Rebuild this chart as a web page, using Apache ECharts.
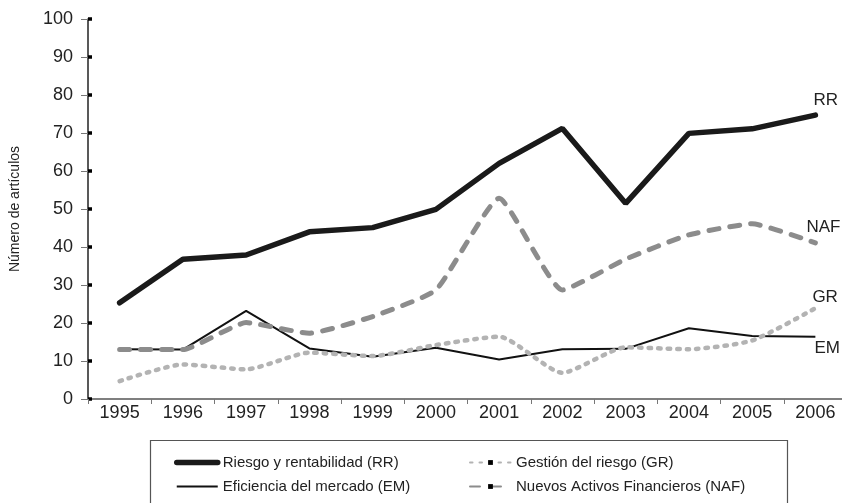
<!DOCTYPE html>
<html>
<head>
<meta charset="utf-8">
<title>Número de artículos</title>
<script src="https://cdn.jsdelivr.net/npm/echarts@6/dist/echarts.min.js"></script>
<style>
	* { margin: 0; padding: 0; }
	#main { width: 842px; height: 503px; }
</style>
</head>
<body>
<div id="main"></div>
<script>
	let years = ['1995', '1996', '1997', '1998', '1999', '2000', '2001', '2002', '2003', '2004', '2005', '2006'];
	let dataRR = [25.3, 36.8, 37.9, 44, 45.1, 49.9, 62, 71.2, 51.5, 69.9, 71.1, 74.7];
	let dataGR = [4.7, 9.1, 7.8, 12.2, 11.3, 14.2, 16.4, 6.9, 13.6, 13.1, 15.4, 23.9];
	let dataEM = [13.1, 13, 23.2, 13.3, 11.1, 13.5, 10.4, 13.1, 13.2, 18.6, 16.6, 16.4];
	let dataNAF = [13, 13, 20.1, 17.3, 21.7, 28.7, 52.8, 28.7, 36.8, 43.2, 46.1, 41.1];
	let yTicks = [0, 10, 20, 30, 40, 50, 60, 70, 80, 90, 100];
	let names = ['Riesgo y rentabilidad (RR)', 'Gestión del riesgo (GR)', 'Eficiencia del mercado (EM)', 'Nuevos Activos Financieros (NAF)'];

	let font = '"Liberation Sans", Arial, sans-serif';
	let myChart = echarts.init(document.getElementById('main'));

	let legendText = { fontFamily: font, fontSize: 15, color: '#222' };

	let option = {
		animation: false,
		backgroundColor: '#ffffff',
		textStyle: { fontFamily: font },
		grid: { left: 88, right: -5, top: 19, bottom: 104, containLabel: false, outerBoundsMode: 'none' },
		legend: [{
			data: [
				{ name: names[0], itemStyle: { opacity: 0 }, lineStyle: { width: 5.5 } },
				{ name: names[2], itemStyle: { opacity: 0 }, lineStyle: { width: 2 } }
			],
			orient: 'vertical',
			left: 174, top: 455, height: 48, padding: 0,
			itemWidth: 41, itemHeight: 6, itemGap: 9,
			textStyle: legendText
		}, {
			data: [names[1], names[3]],
			orient: 'vertical',
			left: 469, top: 455, height: 48, padding: 0,
			itemWidth: 41, itemHeight: 6, itemGap: 9,
			textStyle: legendText
		}],
		graphic: [{
			type: 'rect',
			shape: { x: 150.5, y: 440.5, width: 637, height: 80 },
			style: { fill: 'none', stroke: '#555', lineWidth: 1.2 },
			silent: true
		}],
		xAxis: [{
			type: 'category',
			data: years,
			boundaryGap: true,
			axisLine: { lineStyle: { color: '#777', width: 1.5 } },
			axisTick: { show: true, length: 5, lineStyle: { color: '#777' } },
			axisLabel: { fontFamily: font, fontSize: 18, color: '#222', margin: 5, interval: 0 }
		}, {
			type: 'category',
			data: years,
			position: 'top',
			axisLine: { lineStyle: { color: '#777', width: 1.5 } },
			axisTick: { show: false },
			axisLabel: { show: false }
		}],
		yAxis: [{
			type: 'value',
			min: 0, max: 100, interval: 10,
			name: 'Número de artículos',
			nameLocation: 'middle',
			nameGap: 66,
			nameTextStyle: { fontFamily: font, fontSize: 14, color: '#222' },
			axisLine: { show: true, lineStyle: { color: '#222', width: 1.5 } },
			axisTick: { show: true, length: 7, lineStyle: { color: '#777' } },
			axisLabel: {
				fontFamily: font, fontSize: 18, color: '#222', margin: 15,
				formatter: function(v) { return yTicks.indexOf(v) >= 0 ? String(v) : ''; }
			},
			splitLine: { show: false }
		}, {
			// small black squares inside the axis
			type: 'value',
			min: 0, max: 100, interval: 10,
			position: 'left',
			axisLine: { show: false },
			axisTick: { show: true, inside: true, length: 4, lineStyle: { color: '#000', width: 3.5 } },
			axisLabel: { show: false },
			splitLine: { show: false }
		}],
		series: [{
			name: names[2],
			type: 'line',
			data: dataEM,
			symbol: 'none',
			lineStyle: { color: '#111', width: 2 },
			itemStyle: { color: '#111' },
			z: 2,
			endLabel: { show: true, formatter: 'EM', distance: 0, offset: [-1, 12], fontFamily: font, fontSize: 17, color: '#222' }
		}, {
			name: names[1],
			type: 'line',
			data: dataGR,
			smooth: 0.2,
			symbol: 'rect', symbolSize: 4, showSymbol: false,
			lineStyle: { color: '#b3b3b3', width: 4.5, type: [2.5, 7], cap: 'round' },
			itemStyle: { color: '#000' },
			z: 3,
			endLabel: { show: true, formatter: 'GR', distance: 0, offset: [-3, -11], fontFamily: font, fontSize: 17, color: '#222' }
		}, {
			name: names[3],
			type: 'line',
			data: dataNAF,
			smooth: 0.15,
			symbol: 'rect', symbolSize: 4, showSymbol: false,
			lineStyle: { color: '#8c8c8c', width: 5, type: [10, 11], cap: 'round' },
			itemStyle: { color: '#000' },
			z: 4,
			endLabel: { show: true, formatter: 'NAF', distance: 0, offset: [-9, -16], fontFamily: font, fontSize: 17, color: '#222' }
		}, {
			name: names[0],
			type: 'line',
			data: dataRR,
			symbol: 'none',
			lineStyle: { color: '#1a1a1a', width: 5.5, cap: 'round' },
			itemStyle: { color: '#1a1a1a' },
			z: 5,
			endLabel: { show: true, formatter: 'RR', distance: 0, offset: [-2, -15], fontFamily: font, fontSize: 17, color: '#222' }
		}]
	};
	myChart.setOption(option);
</script>
</body>
</html>
